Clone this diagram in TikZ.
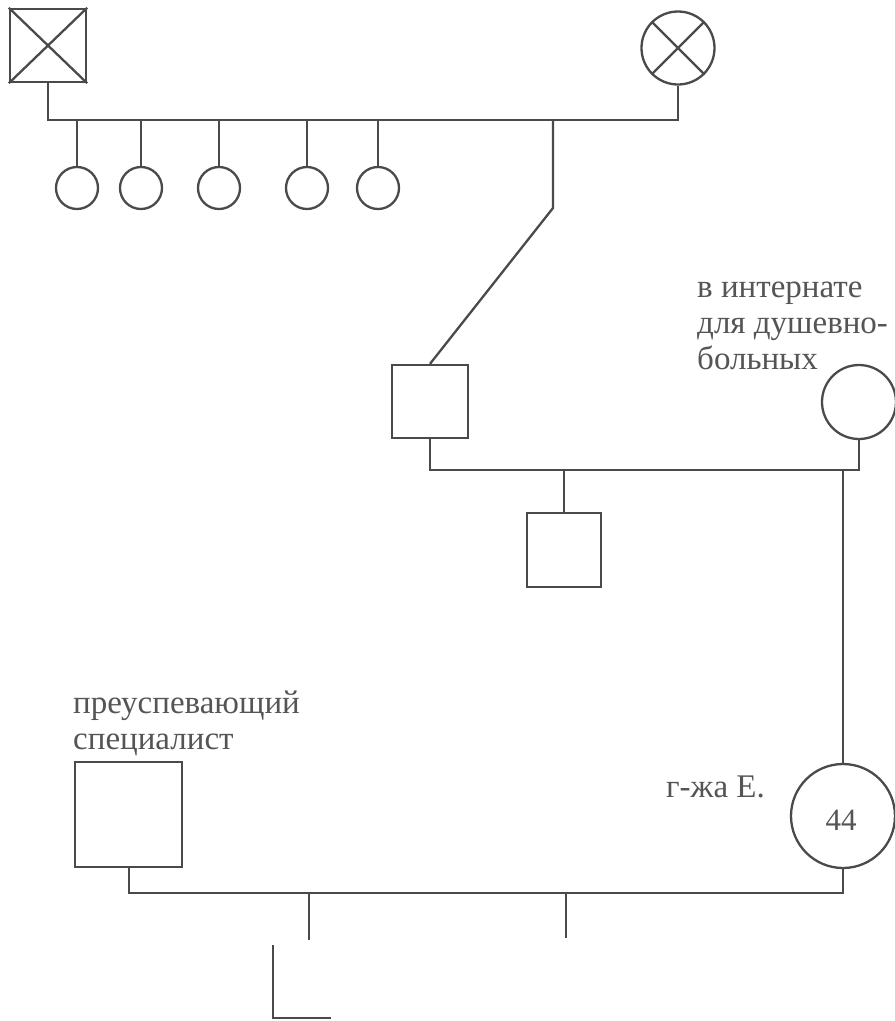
\documentclass[tikz,border=0pt]{standalone}
\usepackage{fontspec}
\setmainfont{Liberation Serif}
\usetikzlibrary{calc}
\definecolor{ink}{HTML}{4A4A4A}
\definecolor{txt}{HTML}{555555}
\tikzset{
  line/.style={draw=ink, line width=2.3pt, line join=miter},
  male/.style={line, rectangle, inner sep=0pt},
  female/.style={line, circle, inner sep=0pt},
  lbl/.style={text=txt, inner sep=0pt, font=\fontsize{33}{36}\selectfont, align=left},
}
\begin{document}
\begin{tikzpicture}[x=1pt, y=-1pt]
\useasboundingbox (0,0) rectangle (895,1021);
\fill[white] (0,0) rectangle (895,1021);

% grandparents (both deceased)
\node[male, minimum width=76pt, minimum height=73pt] (gf) at (48,45.5) {};
\draw[line] (gf.north west) -- (gf.south east) (gf.north east) -- (gf.south west);
\node[female, minimum size=73pt] (gm) at (678,48) {};
\draw[line] (gm.north west) -- (gm.south east) (gm.north east) -- (gm.south west);

% their daughters
\node[female, minimum size=42pt] (d1) at (77,188) {};
\node[female, minimum size=42pt] (d2) at (141,188) {};
\node[female, minimum size=42pt] (d3) at (219,188) {};
\node[female, minimum size=42pt] (d4) at (307,188) {};
\node[female, minimum size=42pt] (d5) at (378,188) {};

% sibship line
\coordinate (s0) at (48,120);
\coordinate (s1) at (678,120);
\draw[line] (gf.south) -- (s0) -- (s1) -- (gm.south);
\foreach \d in {d1,d2,d3,d4,d5} \draw[line] (\d.north) -- (\d.north |- s0);

% son of the grandparents
\node[male, minimum width=76pt, minimum height=73pt] (fa) at (430,401.5) {};
\coordinate (k0) at (553,120);
\coordinate (k1) at (553,208);
\draw[line] (k0) -- (k1) -- (fa.north);

% his wife
\node[female, minimum size=74pt] (mo) at (859,402) {};
% base anchor of a multi-line label sits on its last line
\node[lbl, anchor=base west] (mol) at (697,369) {в интернате\\для душевно-\\больных};

% their marriage
\coordinate (m0) at (430,470);
\coordinate (m1) at (859,470);
\draw[line] (fa.south) -- (m0) -- (m1) -- (mo.south);

% son
\node[male, minimum width=74pt, minimum height=74pt] (br) at (564,550) {};
\draw[line] (br.north) -- (br.north |- m0);

% Mrs E. and her husband
\node[female, minimum size=104pt] (me) at (843,816) {};
\node[text=txt, inner sep=0pt, font=\fontsize{31}{31}\selectfont] (age) at (841,820) {44};
\node[lbl, anchor=base west] (mel) at (666,797) {г-жа Е.};
\draw[line] (me.north |- m1) -- (me.north);

\node[male, minimum width=107pt, minimum height=105pt] (hu) at (128.5,814.5) {};
\node[lbl, anchor=base west] (hul) at (73,749) {преуспевающий\\специалист};

\coordinate (b0) at (129,893);
\coordinate (b1) at (843,893);
\draw[line] (hu.south -| b0) -- (b0) -- (b1) -- (me.south);

% their children
\coordinate (c1) at (309,940);
\coordinate (c2) at (566,938);
\draw[line] (c1 |- b0) -- (c1);
\draw[line] (c2 |- b0) -- (c2);

% corner mark below
\coordinate (l0) at (273,945);
\coordinate (l1) at (273,1018);
\coordinate (l2) at (331,1018);
\draw[line] (l0) -- (l1) -- (l2);
\end{tikzpicture}
\end{document}
